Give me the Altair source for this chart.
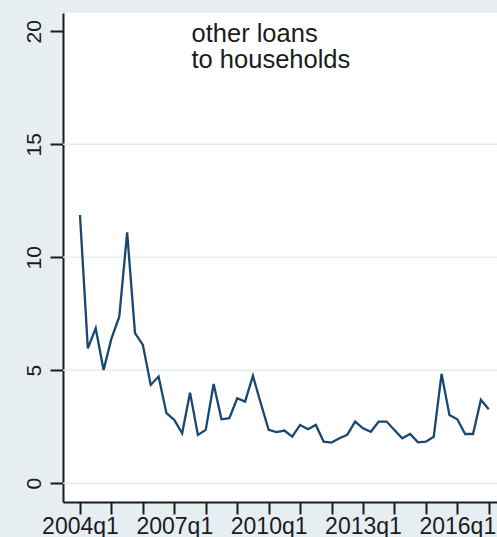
import altair as alt
import pandas as pd

# Quarterly growth series, 2004q1 .. 2017q1
start_year = 2004
values = [
    11.87, 5.97, 6.86, 5.01, 6.40, 7.37, 11.10, 6.64, 6.12, 4.35,
    4.72, 3.10, 2.80, 2.21, 4.01, 2.14, 2.36, 4.39, 2.83, 2.88,
    3.76, 3.61, 4.75, 3.54, 2.36, 2.26, 2.33, 2.06, 2.58, 2.39,
    2.58, 1.84, 1.80, 1.99, 2.14, 2.73, 2.43, 2.28, 2.73, 2.73,
    2.36, 1.99, 2.18, 1.81, 1.84, 2.06, 4.84, 3.02, 2.83, 2.18,
    2.18, 3.69, 3.27,
]
quarter_index = list(range(len(values)))
quarter_names = [f"{start_year + i // 4}q{i % 4 + 1}" for i in quarter_index]

# Axis ticks and labels
x_tick_values = list(range(0, 53, 4))           # one tick per year
x_tick_labels = {0: "2004q1", 12: "2007q1", 24: "2010q1", 36: "2013q1", 48: "2016q1"}
y_tick_values = [0, 5, 10, 15, 20]
grid_values = [0, 5, 10, 15]
annotation_lines = ["other loans", "to households"]

x_domain = [-2.16, 53.05]
y_domain = [-0.83, 20.81]

ink = "#1b1b1b"
navy = "#1A476F"

df = pd.DataFrame({"q": quarter_index, "quarter": quarter_names, "value": values})
grid_df = pd.DataFrame({"g": grid_values})

label_expr = " : ".join(
    f"datum.value == {k} ? '{v}'" for k, v in x_tick_labels.items()
) + " : ''"

x_scale = alt.Scale(domain=x_domain, nice=False, zero=False)
y_scale = alt.Scale(domain=y_domain, nice=False, zero=False)

y_axis = alt.Axis(
    title=None,
    values=y_tick_values,
    grid=False,
    domainColor=ink,
    domainWidth=2,
    tickColor=ink,
    tickWidth=2,
    tickSize=13,
    labelAngle=270,
    labelAlign="center",
    labelBaseline="bottom",
    labelPadding=6,
    labelFontSize=21,
    labelFont="Liberation Sans",
    labelColor=ink,
    labelFlush=False,
    labelOverlap=False,
)

x_axis = alt.Axis(
    title=None,
    values=x_tick_values,
    labelExpr=label_expr,
    grid=False,
    domainColor=ink,
    domainWidth=2,
    tickColor=ink,
    tickWidth=2,
    tickSize=12,
    labelPadding=1,
    labelFontSize=23,
    labelFont="Liberation Sans",
    labelColor=ink,
    labelFlush=False,
    labelOverlap=False,
)

# Horizontal reference lines
grid = alt.Chart(grid_df).mark_rule(color="#E4ECEF", strokeWidth=1.5).encode(
    y=alt.Y("g:Q", scale=y_scale, axis=y_axis)
)

line = alt.Chart(df).mark_line(color=navy, strokeWidth=2.3).encode(
    x=alt.X("q:Q", scale=x_scale, axis=x_axis),
    y=alt.Y("value:Q", scale=y_scale, axis=y_axis),
)

# Two-line series caption inside the plot, one text mark per line
caption_y = [28.7, 55.3]
captions = [
    alt.Chart(pd.DataFrame({"note": [txt]})).mark_text(
        align="left",
        baseline="alphabetic",
        fontSize=25.5,
        font="Liberation Sans",
        color=ink,
    ).encode(text="note:N", x=alt.value(128.5), y=alt.value(cy))
    for txt, cy in zip(annotation_lines, caption_y)
]

chart = (
    alt.layer(grid, line, *captions)
    .properties(
        width=434,
        height=489,
        autosize=alt.AutoSizeParams(type="none"),
        padding={"left": 63, "top": 13, "right": 0, "bottom": 35},
        background="#E7EEF1",
    )
    .configure_view(fill="white", stroke=None)
)

chart.save("out.html", embed_options={"renderer": "svg", "actions": False})
